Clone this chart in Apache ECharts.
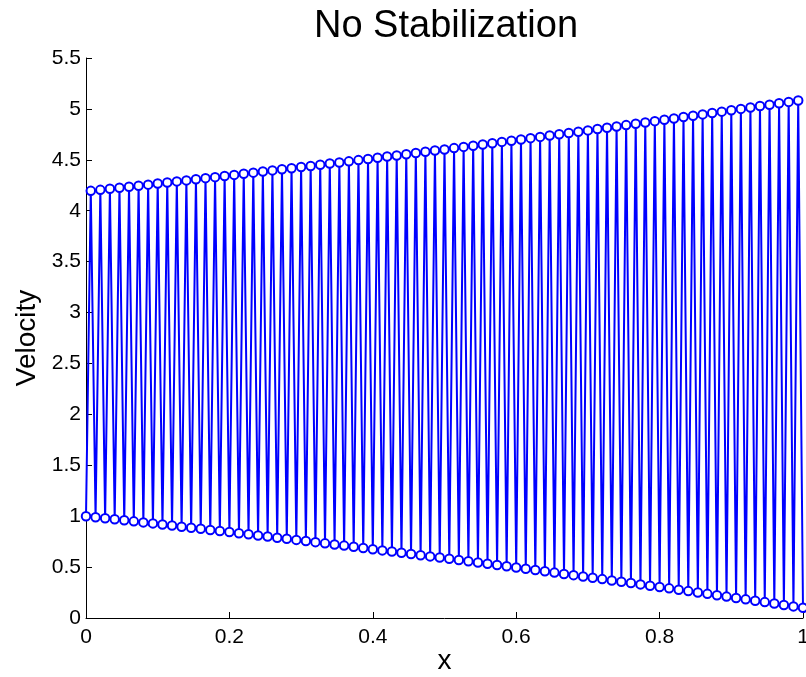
<!DOCTYPE html>
<html lang="en">
<head>
    <meta charset="UTF-8">
    <title>No Stabilization</title>
    <style>
        * {
            margin: 0;
            padding: 0;
            box-sizing: border-box;
        }

        html, body {
            width: 806px;
            height: 677px;
            background: #ffffff;
            overflow: hidden;
        }
    </style>
    <script src="https://cdn.jsdelivr.net/npm/echarts@6/dist/echarts.min.js"></script>
</head>
<body>
<div id="chart" style="width: 806px; height: 677px;"></div>
<script type="text/javascript">
    // 151 nodes on [0, 1]; even nodes sit on the lower envelope, odd nodes on the upper one
    var nodeCount = 151
    var lowerVals = [
        1.000, 0.990, 0.980, 0.970, 0.960, 0.949, 0.939, 0.929, 0.918, 0.908,
        0.897, 0.887, 0.876, 0.865, 0.855, 0.844, 0.833, 0.822, 0.811, 0.800,
        0.789, 0.778, 0.767, 0.756, 0.745, 0.733, 0.722, 0.711, 0.699, 0.688,
        0.676, 0.664, 0.653, 0.641, 0.629, 0.617, 0.605, 0.594, 0.582, 0.569,
        0.557, 0.545, 0.533, 0.521, 0.508, 0.496, 0.484, 0.471, 0.459, 0.446,
        0.433, 0.421, 0.408, 0.395, 0.382, 0.369, 0.356, 0.343, 0.330, 0.317,
        0.304, 0.291, 0.277, 0.264, 0.251, 0.237, 0.224, 0.210, 0.197, 0.183,
        0.169, 0.156, 0.142, 0.128, 0.114, 0.100
    ]
    var upperVals = [
        4.195, 4.205, 4.215, 4.225, 4.236, 4.246, 4.256, 4.267, 4.277, 4.288,
        4.298, 4.309, 4.320, 4.330, 4.341, 4.352, 4.363, 4.374, 4.385, 4.396,
        4.407, 4.418, 4.429, 4.440, 4.451, 4.463, 4.474, 4.485, 4.497, 4.508,
        4.520, 4.532, 4.543, 4.555, 4.567, 4.579, 4.591, 4.602, 4.615, 4.627,
        4.639, 4.651, 4.663, 4.676, 4.688, 4.700, 4.713, 4.725, 4.738, 4.751,
        4.763, 4.776, 4.789, 4.802, 4.815, 4.828, 4.841, 4.854, 4.867, 4.880,
        4.893, 4.906, 4.920, 4.933, 4.946, 4.960, 4.973, 4.987, 5.000, 5.014,
        5.028, 5.041, 5.055, 5.069, 5.083
    ]

    var seriesData = []
    for (var i = 0; i < nodeCount; i++) {
        var v = (i % 2 === 0) ? lowerVals[i / 2] : upperVals[(i - 1) / 2]
        seriesData.push([i / (nodeCount - 1), v])
    }

    var font = 'Liberation Sans, Arial, Helvetica, sans-serif'
    var myChart = echarts.init(document.getElementById('chart'), null, {renderer: 'canvas'})
    var option = {
        animation: false,
        backgroundColor: '#ffffff',
        title: {
            text: 'No Stabilization',
            left: 441,
            top: 3,
            textAlign: 'center',
            textStyle: {
                fontFamily: font,
                fontSize: 38,
                fontWeight: 'normal',
                color: '#000000'
            }
        },
        grid: {
            left: 86,
            right: 3,
            top: 58,
            bottom: 59,
            outerBoundsMode: 'none',
            containLabel: false
        },
        xAxis: {
            type: 'value',
            min: 0,
            max: 1,
            interval: 0.2,
            name: 'x',
            nameLocation: 'middle',
            nameGap: 29,
            nameMoveOverlap: false,
            nameTextStyle: {fontFamily: font, fontSize: 28, color: '#000000'},
            axisLine: {show: true, onZero: false, lineStyle: {color: '#000000', width: 1}},
            axisTick: {show: true, inside: true, length: 6, lineStyle: {color: '#000000'}},
            axisLabel: {fontFamily: font, fontSize: 21, color: '#000000', margin: 9},
            splitLine: {show: false}
        },
        yAxis: {
            type: 'value',
            min: 0,
            max: 5.5,
            interval: 0.5,
            name: 'Velocity',
            nameLocation: 'middle',
            nameGap: 44,
            nameTextStyle: {fontFamily: font, fontSize: 28, color: '#000000'},
            axisLine: {show: true, onZero: false, lineStyle: {color: '#000000', width: 1}},
            axisTick: {show: true, inside: true, length: 6, lineStyle: {color: '#000000'}},
            axisLabel: {fontFamily: font, fontSize: 21, color: '#000000', margin: 5},
            splitLine: {show: false}
        },
        series: [
            {
                type: 'line',
                data: seriesData,
                clip: false,
                showAllSymbol: true,
                symbol: 'emptyCircle',
                symbolSize: 8.5,
                lineStyle: {color: '#0000ff', width: 2},
                itemStyle: {color: '#0000ff', borderColor: '#0000ff', borderWidth: 1.8}
            }
        ]
    }
    myChart.setOption(option)
</script>
</body>
</html>
